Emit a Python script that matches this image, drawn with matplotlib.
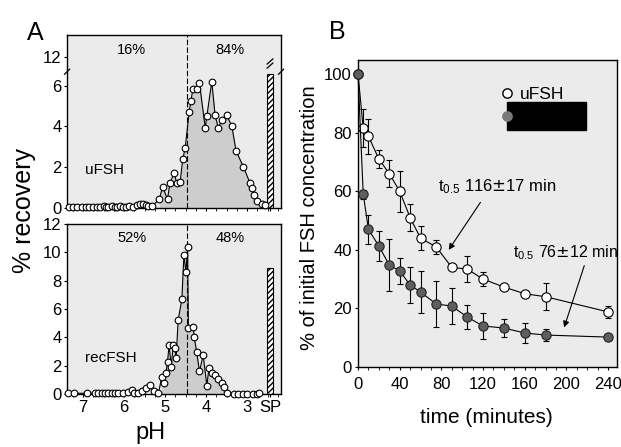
import matplotlib
matplotlib.use("Agg")
import matplotlib.pyplot as plt
from matplotlib.lines import Line2D
from matplotlib.patches import Rectangle
import numpy as np

plt.rcParams['font.family'] = ['Liberation Sans', 'DejaVu Sans']
plt.rcParams['axes.linewidth'] = 1.0

# ---- panel A data: % recovery per fraction vs pH ----
# uFSH (urinary)
ph_u = [7.34, 7.24, 7.14, 7.03, 6.93, 6.85, 6.75, 6.65, 6.59, 6.50,
        6.44, 6.38, 6.30, 6.22, 6.16, 6.10, 6.03, 5.95, 5.87, 5.79,
        5.69, 5.61, 5.53, 5.47, 5.41, 5.32,
        5.14, 5.06, 4.94, 4.88, 4.78, 4.71, 4.63, 4.57, 4.51, 4.41,
        4.37, 4.32, 4.23, 4.16, 4.02, 3.98, 3.86, 3.78, 3.70, 3.62,
        3.50, 3.37, 3.27, 3.09, 2.93, 2.89, 2.83, 2.75, 2.64, 2.56]
rec_u = [0.05, 0.05, 0.05, 0.05, 0.05, 0.05, 0.08, 0.05, 0.05, 0.10,
         0.08, 0.05, 0.10, 0.05, 0.08, 0.10, 0.05, 0.08, 0.10, 0.05,
         0.15, 0.20, 0.20, 0.15, 0.10, 0.10,
         0.44, 1.06, 0.44, 1.25, 1.71, 1.22, 1.30, 2.39, 2.93, 4.72,
         5.26, 5.82, 5.82, 6.11, 3.94, 4.51, 6.19, 4.56, 3.91, 4.32,
         4.56, 4.02, 2.82, 2.03, 1.25, 0.98, 0.65, 0.36, 0.21, 0.16]

# recFSH (recombinant)
ph_r = [7.36, 7.22, 6.90, 6.71, 6.63, 6.54, 6.46, 6.38, 6.30, 6.22,
        6.14, 6.03, 5.90, 5.81, 5.76, 5.65, 5.57, 5.46, 5.37, 5.27, 5.16,
        5.08, 5.02, 4.98, 4.94, 4.90, 4.85, 4.80, 4.76, 4.73, 4.68,
        4.59, 4.54, 4.49, 4.45, 4.43, 4.31, 4.29, 4.23, 4.16, 4.07,
        3.98, 3.93, 3.86, 3.78, 3.70, 3.62, 3.55, 3.50,
        3.33, 3.21, 3.10, 2.99, 2.86, 2.75, 2.70]
rec_r = [0.05, 0.05, 0.05, 0.05, 0.05, 0.05, 0.05, 0.05, 0.05, 0.05,
         0.05, 0.10, 0.16, 0.28, 0.09, 0.05, 0.24, 0.40, 0.64, 0.24, 0.05,
         1.22, 0.75, 1.46, 2.28, 3.46, 1.93, 3.46, 3.22, 2.52, 5.22,
         6.68, 9.81, 8.63, 10.35, 4.63, 4.75, 4.05, 2.99, 1.60, 2.75,
         0.59, 1.81, 1.46, 1.34, 1.03, 0.80, 0.52, 0.05,
         0.03, 0.03, 0.03, 0.03, 0.03, 0.03, 0.05]

ph_split = 4.47              # dashed divider
pct_u = ["16%", "84%"]
pct_r = ["52%", "48%"]
sp_ph = 2.44                 # position of the SP (salt peak) bar
sp_u = 6.55                  # runs off the scale (cut at axis break)
sp_r = 8.9
ph_ticks = [7, 6, 5, 4, 3, sp_ph]
ph_labels = ["7", "6", "5", "4", "3", "SP"]

# ---- panel B data: disappearance from circulation ----
t_min = [0, 5, 10, 20, 30, 40, 50, 60, 75, 90, 105, 120, 140, 160, 180, 240]
ufsh = [100, 81.5, 78.8, 71, 66, 60, 51, 44, 41, 34, 33.4, 30, 27.3, 25, 24, 18.8]
ufsh_err = [0, 6.5, 6, 3, 4.5, 7, 4.5, 4, 2.5, 1, 4.5, 2.5, 1, 1, 4.5, 2]
recfsh = [100, 59, 47, 41.3, 34.8, 32.8, 28, 25.6, 21.5, 20.8, 17, 14, 13.3, 11.6, 10.9, 10.2]
recfsh_err = [0, 1.5, 5, 5, 9, 4.5, 6, 7, 8, 6, 4, 4.5, 3, 3.5, 2, 1]

bg = '#ebebeb'
fill = '#cdcdcd'

fig = plt.figure(figsize=(6.21, 4.47), dpi=100)
axA1 = fig.add_axes([0.108, 0.534, 0.3446, 0.3877])
axA2 = fig.add_axes([0.108, 0.1186, 0.3446, 0.3803])
axB = fig.add_axes([0.5765, 0.179, 0.4171, 0.6868])


def profile(ax, ph, rec, sp, pcts, ytop):
    ph = np.array(ph)
    rec = np.array(rec)
    ax.set_facecolor(bg)
    m = ph <= 5.15
    ax.fill_between(ph[m], 0, rec[m], color=fill, lw=0)
    ax.plot(ph, rec, '-o', color='black', lw=0.8, ms=4.8,
            mfc='white', mec='black', mew=0.8, clip_on=False, zorder=3)
    ax.bar(sp_ph, sp, width=0.16, color='white', edgecolor='black',
           hatch='//////', lw=0.8, zorder=2)
    ax.axvline(ph_split, color='black', lw=0.8, ls=(0, (5, 2)), zorder=1)
    ax.set_xlim(7.39, 2.17)
    ax.set_ylim(0, ytop)
    ax.text(5.81, ytop * 0.915, pcts[0], ha='center', va='center', fontsize=10.5)
    ax.text(3.41, ytop * 0.915, pcts[1], ha='center', va='center', fontsize=10.5)
    ax.tick_params(labelsize=12, length=2.5, width=0.8, pad=1.5)
    ax.set_xticks(np.arange(2.25, 7.4, 0.25), minor=True)
    ax.tick_params(which='minor', length=2, width=0.6)


profile(axA1, ph_u, rec_u, sp_u, pct_u, 8.47)
profile(axA2, ph_r, rec_r, sp_r, pct_r, 12)
axA1.text(6.95, 1.87, "uFSH", va='center', fontsize=11)
axA2.text(6.95, 2.54, "recFSH", va='center', fontsize=11)

# top panel: broken y axis, 12 sits above the break
axA1.set_yticks([0, 2, 4, 6, 7.39])
axA1.set_yticklabels(["0", "2", "4", "6", "12"])
axA1.set_xticks(ph_ticks)
axA1.set_xticklabels([])
axA2.set_yticks(range(0, 13, 2))
axA2.set_xticks(ph_ticks)
axA2.set_xticklabels(ph_labels)
for xa in (0, 1):
    tr = axA1.get_yaxis_transform()
    axA1.plot([xa - 0.012, xa + 0.012], [6.55, 6.8], color='black', lw=0.9,
              transform=tr, clip_on=False)
# break mark over the SP bar
axA1.plot([sp_ph + 0.07, sp_ph - 0.07], [6.85, 7.1], color='black', lw=0.9)
axA1.plot([sp_ph + 0.07, sp_ph - 0.07], [7.05, 7.3], color='black', lw=0.9)

# ---- panel B ----
axB.set_facecolor(bg)
axB.errorbar(t_min, ufsh, yerr=ufsh_err, fmt='-o', color='black', lw=0.8,
             elinewidth=0.8, capsize=2, ms=6.7, mfc='white', mec='black',
             mew=0.8, clip_on=False, zorder=3)
axB.errorbar(t_min, recfsh, yerr=recfsh_err, fmt='-o', color='black', lw=0.8,
             elinewidth=0.8, capsize=2, ms=6.7, mfc='#5e5e5e', mec='#222222',
             mew=0.8, clip_on=False, zorder=3)
axB.set_xlim(0, 248.6)
axB.set_ylim(0, 104.8)
axB.set_xticks(range(0, 241, 40))
axB.set_xticks(range(0, 241, 10), minor=True)
axB.set_yticks(range(0, 101, 20))
axB.tick_params(labelsize=12, length=2.5, width=0.8, pad=2)
axB.tick_params(axis='x', pad=5)
axB.tick_params(which='minor', length=2, width=0.6)

axB.text(77, 61.4, r'$\mathregular{t_{0.5}}$ 116$\pm$17 min', va='center', fontsize=12)
axB.annotate('', xy=(85.6, 39.2), xytext=(119, 57),
             arrowprops=dict(arrowstyle='-|>', color='black', lw=0.8, mutation_scale=9))
axB.text(149, 39, r'$\mathregular{t_{0.5}}$ 76$\pm$12 min', va='center', fontsize=11.5)
axB.annotate('', xy=(197, 12.6), xytext=(218, 35.5),
             arrowprops=dict(arrowstyle='-|>', color='black', lw=0.8, mutation_scale=9))

# legend, second entry blacked out as in the scan
axB.add_patch(Rectangle((0.575, 0.772), 0.305, 0.091, transform=axB.transAxes,
                        color='black', zorder=4))
hnd = [Line2D([], [], ls='', marker='o', ms=6.7, mfc='white', mec='black'),
       Line2D([], [], ls='', marker='o', ms=6.7, mfc='#7a7a7a', mec='#7a7a7a')]
leg = axB.legend(hnd, ["uFSH", "recFSH"], loc='upper left', bbox_to_anchor=(0.523, 0.935),
                 frameon=False, fontsize=12.5, handlelength=0.8, handletextpad=0.3,
                 labelspacing=0.45, borderaxespad=0)
leg.get_texts()[1].set_color('black')

# labels
fig.text(0.056, 0.927, "A", fontsize=18, ha='center', va='center')
fig.text(0.543, 0.929, "B", fontsize=18, ha='center', va='center')
fig.text(0.039, 0.528, "% recovery", fontsize=18, rotation=90, ha='center', va='center')
fig.text(0.242, 0.031, "pH", fontsize=17, ha='center', va='center')
fig.text(0.499, 0.514, "% of initial FSH concentration", fontsize=14.5, rotation=90,
         ha='center', va='center')
fig.text(0.784, 0.067, "time (minutes)", fontsize=15, ha='center', va='center')

fig.savefig("out.png", dpi=100)
